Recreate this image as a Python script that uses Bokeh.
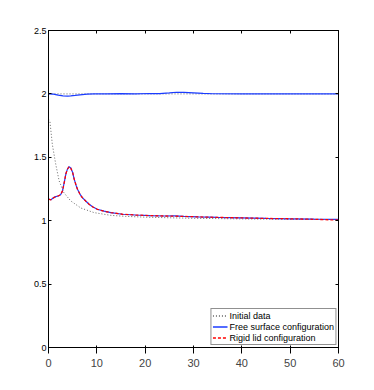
from bokeh.plotting import figure
from bokeh.models import Range1d, LinearAxis, FixedTicker, Legend, LegendItem
from bokeh.embed import file_html
from bokeh.resources import INLINE

# ---- data ----
x_ticks = [0, 10, 20, 30, 40, 50, 60]
y_ticks = [0, 0.5, 1, 1.5, 2, 2.5]
y_tick_labels = ["0", "0.5", "1", "1.5", "2", "2.5"]

init_upper_x = [0, 60]
init_upper_y = [2.0, 2.0]
init_lower_x = [0, 0.3, 0.8, 1.5, 2.2, 3.2, 4.6, 6.7, 9.4, 12.9, 16, 20, 25, 30, 40, 50, 60]
init_lower_y = [1.80, 1.78, 1.60, 1.445, 1.314, 1.22, 1.156, 1.10, 1.064, 1.042,
                1.034, 1.028, 1.023, 1.019, 1.014, 1.011, 1.009]

free_upper_x = [0, 1, 2, 3, 4, 4.6, 5.5, 6.5, 8, 9.4, 12, 15, 18, 21, 23, 25,
                26.5, 28, 30, 32, 34, 40, 50, 60]
free_upper_y = [2.0, 1.998, 1.99, 1.985, 1.983, 1.984, 1.988, 1.993, 1.998, 2.0,
                2.0, 2.002, 2.0, 2.003, 2.002, 2.008, 2.013, 2.012, 2.008, 2.004,
                2.001, 2.0, 2.0, 2.0]

free_lower_x = [0, 0.5, 1, 1.5, 2, 2.5, 2.9, 3.3, 3.6, 3.9, 4.25, 4.6, 5.0, 5.3,
                5.7, 6.0, 6.5, 7.0, 7.7, 8.4, 9.2, 10.1, 11.5, 12.9, 15.3, 18, 21,
                24, 26, 28, 31, 35, 40, 45, 50, 55, 60]
free_lower_y = [1.17, 1.165, 1.18, 1.19, 1.195, 1.205, 1.235, 1.31, 1.37, 1.405,
                1.426, 1.415, 1.38, 1.33, 1.28, 1.248, 1.21, 1.182, 1.155, 1.13,
                1.108, 1.09, 1.075, 1.064, 1.051, 1.045, 1.040, 1.037, 1.038,
                1.034, 1.030, 1.026, 1.022, 1.018, 1.015, 1.012, 1.010]

rigid_lower_x = free_lower_x
rigid_lower_y = [1.17, 1.165, 1.18, 1.19, 1.195, 1.205, 1.235, 1.31, 1.37, 1.405,
                 1.426, 1.415, 1.38, 1.33, 1.28, 1.248, 1.21, 1.182, 1.155, 1.13,
                 1.108, 1.09, 1.075, 1.064, 1.051, 1.045, 1.040, 1.037, 1.036,
                 1.034, 1.030, 1.026, 1.022, 1.018, 1.015, 1.011, 1.005]

legend_labels = ["Initial data", "Free surface configuration", "Rigid lid configuration"]

FONT = "Liberation Sans"
FS = "9px"

p = figure(frame_width=290, frame_height=317,
           min_border_left=48, min_border_right=18, min_border_top=30, min_border_bottom=27,
           x_range=Range1d(0, 60), y_range=Range1d(0, 2.5),
           output_backend="svg", toolbar_location=None)
p.grid.visible = False
p.background_fill_color = "white"
p.outline_line_color = "black"

xt = FixedTicker(ticks=x_ticks)
yt = FixedTicker(ticks=y_ticks)
overrides = {v: s for v, s in zip(y_ticks, y_tick_labels)}

for ax in p.xaxis:
    ax.ticker = xt
for ax in p.yaxis:
    ax.ticker = yt
    ax.major_label_overrides = overrides

top = LinearAxis(ticker=xt, major_label_overrides={v: "" for v in x_ticks})
right = LinearAxis(ticker=yt, major_label_overrides={v: "" for v in y_ticks})
p.add_layout(top, "above")
p.add_layout(right, "right")

for ax in [p.xaxis[0], p.yaxis[0], top, right]:
    ax.axis_line_color = "black"
    ax.axis_line_width = 1
    ax.major_tick_in = 3
    ax.major_tick_out = 0
    ax.major_tick_line_color = "black"
    ax.minor_tick_line_color = None
    ax.major_label_text_font = FONT
    ax.major_label_text_font_size = FS
    ax.major_label_text_color = "black"
    ax.major_label_standoff = 2
top.major_label_standoff = 0
right.major_label_standoff = 0
p.xaxis[0].major_label_standoff = 3

r_i1 = p.line(init_upper_x, init_upper_y, line_color="#666666", line_width=1, line_dash="1 2")
r_i2 = p.line(init_lower_x, init_lower_y, line_color="#666666", line_width=1, line_dash="1 2")
r_f1 = p.line(free_upper_x, free_upper_y, line_color="#1a3cff", line_width=1.2)
r_f2 = p.line(free_lower_x, free_lower_y, line_color="#1a3cff", line_width=1.2)
r_r = p.line(rigid_lower_x, rigid_lower_y, line_color="#ff0000", line_width=1.3, line_dash="3 2")

legend = Legend(items=[
    LegendItem(label=legend_labels[0], renderers=[r_i1, r_i2]),
    LegendItem(label=legend_labels[1], renderers=[r_f1, r_f2]),
    LegendItem(label=legend_labels[2], renderers=[r_r]),
], location="bottom_right")
legend.margin = 2
legend.padding = 1
legend.spacing = 0
legend.glyph_width = 15
legend.glyph_height = 11
legend.label_height = 11
legend.label_standoff = 2
legend.label_text_font = FONT
legend.label_text_font_size = FS
legend.label_text_color = "black"
legend.border_line_color = "#222222"
legend.border_line_width = 1
legend.background_fill_color = "white"
legend.background_fill_alpha = 1
p.add_layout(legend, "center")

open("out.html", "w").write(file_html(p, INLINE))
